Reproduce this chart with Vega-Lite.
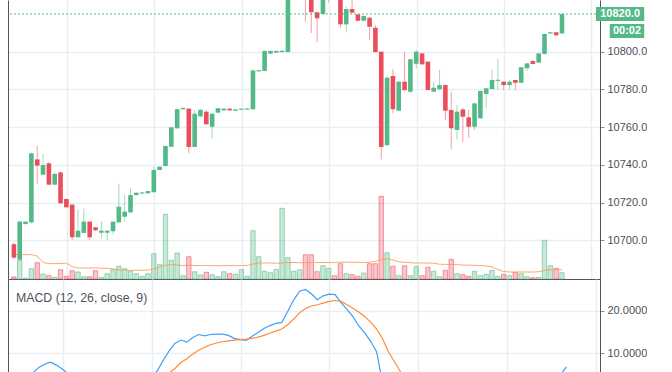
{
  "$schema": "https://vega.github.io/schema/vega-lite/v6.json",
  "padding": {"left": 7, "top": 0, "right": 0, "bottom": 0},
  "spacing": 0,
  "bounds": "flush",
  "background": "white",
  "config": {
    "view": {"stroke": null},
    "axis": {
      "labelFont": "Liberation Sans", "labelFontSize": 11, "labelColor": "#4d4f57",
      "gridColor": "#e9eef3", "gridWidth": 1.5, "domainColor": "#50535e",
      "tickColor": "#8a8e97", "tickSize": 4, "labelPadding": 3, "title": null
    }
  },
  "data": {"values": [
    {"t":0,"o":10697.9,"h":10699,"l":10690,"c":10690.8,"v":2,"vma":24.4,"m":2.0,"s":4.0},
    {"t":1,"o":10689.7,"h":10710.5,"l":10689.5,"c":10709.9,"v":18.7,"vma":24.4,"m":2.8,"s":3.9},
    {"t":2,"o":10708.6,"h":10710,"l":10708.5,"c":10709.9,"v":1,"vma":24.4,"m":3.5,"s":3.9},
    {"t":3,"o":10709.5,"h":10746.5,"l":10709,"c":10746.1,"v":10.3,"vma":24.3,"m":4.3,"s":4.0},
    {"t":4,"o":10742.9,"h":10750,"l":10730,"c":10739.6,"v":16.3,"vma":23,"m":5.3,"s":4.2},
    {"t":5,"o":10734.8,"h":10746,"l":10734.5,"c":10739.9,"v":5,"vma":16.5,"m":6.6,"s":4.5},
    {"t":6,"o":10740.8,"h":10741.5,"l":10729.3,"c":10729.5,"v":3.3,"vma":15.4,"m":7.4,"s":4.8},
    {"t":7,"o":10729.5,"h":10736,"l":10729.3,"c":10735.2,"v":1.7,"vma":15.4,"m":7.9,"s":5.0},
    {"t":8,"o":10736,"h":10736.3,"l":10719.5,"c":10719.6,"v":9.3,"vma":15.6,"m":7.2,"s":5.1},
    {"t":9,"o":10721.9,"h":10722,"l":10717.3,"c":10717.5,"v":2.7,"vma":15.8,"m":6.3,"s":5.2},
    {"t":10,"o":10718.9,"h":10719,"l":10700.2,"c":10701.6,"v":8.3,"vma":12.5,"m":5.2,"s":5.1},
    {"t":11,"o":10701.6,"h":10716.4,"l":10701.4,"c":10705.1,"v":7,"vma":11,"m":4.2,"s":4.9},
    {"t":12,"o":10703.9,"h":10716.8,"l":10703.7,"c":10709.9,"v":2.3,"vma":11,"m":3.6,"s":4.6},
    {"t":13,"o":10709.9,"h":10710,"l":10700.2,"c":10701.6,"v":2.3,"vma":11,"m":3.0,"s":4.3},
    {"t":14,"o":10706.9,"h":10707,"l":10705,"c":10705.3,"v":8.3,"vma":11,"m":2.6,"s":4.0},
    {"t":15,"o":10704,"h":10710.1,"l":10700.9,"c":10705.1,"v":1.7,"vma":10.8,"m":2.2,"s":3.7},
    {"t":16,"o":10704,"h":10705.3,"l":10700.2,"c":10705.1,"v":5.3,"vma":10.7,"m":2.0,"s":3.4},
    {"t":17,"o":10704.8,"h":10710,"l":10703.2,"c":10709.9,"v":9.3,"vma":10,"m":2.0,"s":3.1},
    {"t":18,"o":10709.5,"h":10729.9,"l":10709.3,"c":10717.8,"v":12.7,"vma":9.2,"m":2.3,"s":2.9},
    {"t":19,"o":10712.5,"h":10724,"l":10709.9,"c":10715.2,"v":10.3,"vma":8.8,"m":2.5,"s":2.8},
    {"t":20,"o":10714.8,"h":10727.6,"l":10714.6,"c":10724,"v":8,"vma":8.7,"m":3.0,"s":2.8},
    {"t":21,"o":10724,"h":10725.4,"l":10723.8,"c":10725.2,"v":5.3,"vma":8.7,"m":3.3,"s":2.9},
    {"t":22,"o":10724.8,"h":10725.5,"l":10724.6,"c":10725.4,"v":2.7,"vma":8.7,"m":3.5,"s":3.0},
    {"t":23,"o":10724.9,"h":10726.3,"l":10724.7,"c":10726.1,"v":5.3,"vma":9,"m":3.8,"s":3.1},
    {"t":24,"o":10725.5,"h":10739,"l":10725.3,"c":10737.3,"v":25.3,"vma":10,"m":4.6,"s":3.4},
    {"t":25,"o":10737.3,"h":10739.2,"l":10737.1,"c":10739,"v":14.3,"vma":12,"m":5.8,"s":3.8},
    {"t":26,"o":10739.4,"h":10750.2,"l":10739.2,"c":10750,"v":64.7,"vma":13.8,"m":8.3,"s":4.6},
    {"t":27,"o":10749.6,"h":10760.1,"l":10749.4,"c":10759.9,"v":18.7,"vma":14.5,"m":10.5,"s":5.3},
    {"t":28,"o":10759.4,"h":10769.7,"l":10759.2,"c":10769.5,"v":26,"vma":14,"m":12.3,"s":6.4},
    {"t":29,"o":10769.5,"h":10770.4,"l":10769.3,"c":10770.2,"v":3.3,"vma":13.5,"m":13.1,"s":7.8},
    {"t":30,"o":10769.8,"h":10770,"l":10746.1,"c":10749.5,"v":22.3,"vma":13.7,"m":12.6,"s":8.7},
    {"t":31,"o":10749.5,"h":10769.1,"l":10749.3,"c":10767.1,"v":7.3,"vma":13.5,"m":13.7,"s":9.8},
    {"t":32,"o":10765.7,"h":10769.4,"l":10765.5,"c":10769.2,"v":4,"vma":13.4,"m":14.4,"s":10.7},
    {"t":33,"o":10768.2,"h":10769.1,"l":10761.3,"c":10761.5,"v":6.7,"vma":13.4,"m":14.1,"s":11.4},
    {"t":34,"o":10760.2,"h":10767.3,"l":10754.1,"c":10767.1,"v":4.3,"vma":13.4,"m":14.4,"s":12.0},
    {"t":35,"o":10767.7,"h":10770.2,"l":10767.1,"c":10770,"v":2.3,"vma":13.3,"m":14.5,"s":12.4},
    {"t":36,"o":10768.9,"h":10770,"l":10768.7,"c":10769.8,"v":7.3,"vma":13.3,"m":14.5,"s":12.7},
    {"t":37,"o":10769.8,"h":10770,"l":10768.7,"c":10768.9,"v":5.3,"vma":13.4,"m":14.2,"s":12.9},
    {"t":38,"o":10768.7,"h":10769.6,"l":10768.5,"c":10769.4,"v":4.7,"vma":13.4,"m":13.5,"s":13.1},
    {"t":39,"o":10769.2,"h":10769.9,"l":10769,"c":10769.8,"v":9.3,"vma":13.4,"m":13.2,"s":13.2},
    {"t":40,"o":10769.3,"h":10770,"l":10769.1,"c":10769.9,"v":2.7,"vma":13.5,"m":13.0,"s":13.3},
    {"t":41,"o":10769.5,"h":10790.3,"l":10769.3,"c":10790.1,"v":48.3,"vma":15,"m":14.0,"s":13.5},
    {"t":42,"o":10789.6,"h":10790.3,"l":10789.4,"c":10790.2,"v":22.3,"vma":16,"m":14.9,"s":13.8},
    {"t":43,"o":10789.8,"h":10800.6,"l":10789.6,"c":10800.4,"v":7.7,"vma":16,"m":15.8,"s":14.2},
    {"t":44,"o":10799,"h":10800.6,"l":10798.8,"c":10800.4,"v":6.3,"vma":16,"m":16.5,"s":14.7},
    {"t":45,"o":10799.5,"h":10800.6,"l":10799.3,"c":10800.4,"v":9.7,"vma":15.7,"m":17.0,"s":15.2},
    {"t":46,"o":10799.8,"h":10800.6,"l":10799.6,"c":10800.5,"v":70.7,"vma":16,"m":17.2,"s":15.7},
    {"t":47,"o":10799.8,"h":10838,"l":10799.6,"c":10835,"v":21.3,"vma":16.5,"m":19.8,"s":16.7},
    {"t":48,"o":10835,"h":10841,"l":10832,"c":10838,"v":7.7,"vma":16.5,"m":22.5,"s":18.0},
    {"t":49,"o":10838,"h":10846,"l":10834,"c":10842,"v":9.3,"vma":16.3,"m":24.6,"s":19.5},
    {"t":50,"o":10842,"h":10844,"l":10815.9,"c":10829,"v":24.3,"vma":16.3,"m":25.0,"s":20.5},
    {"t":51,"o":10829,"h":10831,"l":10809.9,"c":10820.9,"v":24.3,"vma":16.4,"m":24.0,"s":21.1},
    {"t":52,"o":10820.9,"h":10821.2,"l":10805,"c":10817.7,"v":7.3,"vma":16.4,"m":22.6,"s":21.4},
    {"t":53,"o":10820,"h":10833,"l":10819.8,"c":10830,"v":13.3,"vma":16.5,"m":23.5,"s":21.8},
    {"t":54,"o":10830,"h":10838,"l":10826,"c":10836,"v":10.7,"vma":16.3,"m":23.9,"s":22.2},
    {"t":55,"o":10836,"h":10840,"l":10831,"c":10834,"v":3.3,"vma":16.5,"m":23.8,"s":22.4},
    {"t":56,"o":10834,"h":10838,"l":10812.7,"c":10814.5,"v":15.3,"vma":16.8,"m":21.9,"s":22.2},
    {"t":57,"o":10814.5,"h":10824,"l":10810.3,"c":10822.6,"v":5.3,"vma":16.9,"m":20.3,"s":21.4},
    {"t":58,"o":10822.6,"h":10830,"l":10820.5,"c":10820.7,"v":4.3,"vma":16.7,"m":18.6,"s":20.6},
    {"t":59,"o":10819.8,"h":10820,"l":10816.2,"c":10816.4,"v":2.7,"vma":16.6,"m":16.4,"s":19.7},
    {"t":60,"o":10816.4,"h":10819.1,"l":10816.2,"c":10818.9,"v":6,"vma":16.4,"m":14.8,"s":18.6},
    {"t":61,"o":10818,"h":10818.2,"l":10806.2,"c":10813.2,"v":15.3,"vma":16.8,"m":12.8,"s":17.3},
    {"t":62,"o":10812.7,"h":10814.1,"l":10799.6,"c":10799.8,"v":15.3,"vma":17.5,"m":10.3,"s":15.7},
    {"t":63,"o":10800,"h":10800.2,"l":10742.9,"c":10749.5,"v":82.7,"vma":19.5,"m":3.0,"s":13.4},
    {"t":64,"o":10750.4,"h":10787.1,"l":10750.2,"c":10786.2,"v":26.3,"vma":20.3,"m":1.5,"s":10.3},
    {"t":65,"o":10787.1,"h":10790.8,"l":10767.3,"c":10769.5,"v":12.7,"vma":19,"m":0.8,"s":8.0},
    {"t":66,"o":10768.7,"h":10784.3,"l":10768.5,"c":10784.1,"v":3.3,"vma":17.2,"m":0.5,"s":5.7},
    {"t":67,"o":10784.1,"h":10800,"l":10779,"c":10779.7,"v":13.3,"vma":16.7,"m":0.3,"s":3.8},
    {"t":68,"o":10778.8,"h":10796.2,"l":10778,"c":10796,"v":3.3,"vma":16.3,"m":0.5,"s":2.8},
    {"t":69,"o":10793.6,"h":10801,"l":10791.2,"c":10800,"v":12.7,"vma":16,"m":0.8,"s":2.2},
    {"t":70,"o":10799.1,"h":10799.3,"l":10793.1,"c":10793.3,"v":3.3,"vma":16,"m":0.7,"s":1.9},
    {"t":71,"o":10794.7,"h":10794.9,"l":10779.5,"c":10779.7,"v":11.7,"vma":16,"m":0.1,"s":1.6},
    {"t":72,"o":10778.8,"h":10784.1,"l":10778.6,"c":10780.9,"v":7.7,"vma":15.7,"m":-0.3,"s":1.2},
    {"t":73,"o":10780.1,"h":10790.3,"l":10779.9,"c":10782.3,"v":2.3,"vma":14.8,"m":-0.6,"s":0.9},
    {"t":74,"o":10782.3,"h":10782.5,"l":10763.8,"c":10768.7,"v":8.7,"vma":14.6,"m":-1.4,"s":0.5},
    {"t":75,"o":10769.1,"h":10778.8,"l":10748.4,"c":10759.4,"v":19.7,"vma":14.5,"m":-2.5,"s":0},
    {"t":76,"o":10758.5,"h":10771.7,"l":10753.5,"c":10768.2,"v":5.3,"vma":14.3,"m":-3.0,"s":-0.6},
    {"t":77,"o":10769.4,"h":10770,"l":10752,"c":10765.5,"v":4.3,"vma":14,"m":-3.3,"s":-1.1},
    {"t":78,"o":10765.2,"h":10769.1,"l":10754.4,"c":10760.2,"v":2.7,"vma":13.8,"m":-3.8,"s":-1.6},
    {"t":79,"o":10760.2,"h":10772.8,"l":10758.5,"c":10772.6,"v":7.7,"vma":13.7,"m":-3.5,"s":-2.0},
    {"t":80,"o":10764.7,"h":10779.4,"l":10764.5,"c":10779.2,"v":3.3,"vma":13.5,"m":-2.6,"s":-2.1},
    {"t":81,"o":10777.6,"h":10780.8,"l":10770,"c":10780.6,"v":4.7,"vma":13,"m":-1.8,"s":-2.1},
    {"t":82,"o":10780.2,"h":10790.3,"l":10780,"c":10785,"v":8.7,"vma":12,"m":-1.0,"s":-1.9},
    {"t":83,"o":10784.5,"h":10796,"l":10780,"c":10785.1,"v":2.7,"vma":9.5,"m":-0.4,"s":-1.6},
    {"t":84,"o":10784.1,"h":10784.3,"l":10779.7,"c":10782.3,"v":4.7,"vma":7.5,"m":-0.1,"s":-1.3},
    {"t":85,"o":10782.3,"h":10785,"l":10780,"c":10784.1,"v":3.3,"vma":7,"m":0.2,"s":-1.0},
    {"t":86,"o":10785,"h":10785.2,"l":10779.7,"c":10783.5,"v":6.7,"vma":7,"m":0.4,"s":-0.7},
    {"t":87,"o":10783.5,"h":10791.9,"l":10783.3,"c":10791.7,"v":5.3,"vma":7,"m":1.0,"s":-0.4},
    {"t":88,"o":10791.2,"h":10794,"l":10789.8,"c":10793.8,"v":2.3,"vma":7,"m":1.6,"s":0},
    {"t":89,"o":10795.1,"h":10795.3,"l":10793.3,"c":10793.5,"v":1.3,"vma":7,"m":2.0,"s":0.4},
    {"t":90,"o":10794.2,"h":10799.3,"l":10794,"c":10799.1,"v":1.7,"vma":7.3,"m":2.6,"s":0.8},
    {"t":91,"o":10798.8,"h":10809.6,"l":10798.6,"c":10809.4,"v":38.7,"vma":8.5,"m":3.9,"s":1.4},
    {"t":92,"o":10809.7,"h":10810.5,"l":10809.5,"c":10810.3,"v":13.3,"vma":9.3,"m":4.4,"s":2.0},
    {"t":93,"o":10810.3,"h":10810.5,"l":10808.5,"c":10808.7,"v":10.7,"vma":9.3,"m":5.0,"s":2.6},
    {"t":94,"o":10809.7,"h":10820.2,"l":10809.5,"c":10820,"v":6.3,"vma":9.3,"m":6.8,"s":3.4}
  ]},
  "vconcat": [
    {
      "width": 592,
      "height": 279,
      "layer": [
        {
          "layer": [
            {
              "mark": {"type": "bar", "orient": "vertical", "width": 4.4, "strokeWidth": 1, "fillOpacity": 0.32, "strokeOpacity": 0.55},
              "encoding": {
                "x": {"field": "t", "type": "quantitative", "scale": {"domain": [-0.152, 99.66], "nice": false, "zero": false},
                      "axis": {"orient": "bottom", "values": [9.05, 24.05, 39.05, 54.05, 69.05, 84.05, 99.05], "labels": false, "ticks": false, "domain": true, "grid": true}},
                "y": {"field": "v", "type": "quantitative", "scale": {"domain": [0, 279], "nice": false},
                      "axis": {"orient": "left", "labels": false, "ticks": false, "grid": false, "domain": true}},
                "fill": {"condition": {"test": "datum.c >= datum.o", "value": "#53b987"}, "value": "#eb4d5c"},
                "stroke": {"condition": {"test": "datum.c >= datum.o", "value": "#53b987"}, "value": "#eb4d5c"}
              }
            },
            {
              "mark": {"type": "line", "color": "#ff9a4d", "strokeWidth": 1, "opacity": 0.85},
              "encoding": {
                "x": {"field": "t", "type": "quantitative"},
                "y": {"field": "vma", "type": "quantitative"}
              }
            }
          ]
        },
        {
          "layer": [
            {
              "mark": {"type": "rule", "strokeWidth": 1, "opacity": 0.55, "clip": true},
              "encoding": {
                "x": {"field": "t", "type": "quantitative"},
                "y": {"field": "l", "type": "quantitative", "scale": {"domain": [10679.48, 10827.41], "nice": false, "zero": false},
                      "axis": {"orient": "right", "values": [10700, 10720, 10740, 10760, 10780, 10800], "format": ".1f", "grid": true}},
                "y2": {"field": "h"},
                "color": {"condition": {"test": "datum.c >= datum.o", "value": "#53b987"}, "value": "#eb4d5c"}
              }
            },
            {
              "mark": {"type": "bar", "width": 4.6, "clip": true},
              "encoding": {
                "x": {"field": "t", "type": "quantitative"},
                "y": {"field": "o", "type": "quantitative"},
                "y2": {"field": "c"},
                "color": {"condition": {"test": "datum.c >= datum.o", "value": "#53b987"}, "value": "#eb4d5c"}
              }
            },
            {
              "data": {"values": [{"last": 10820}]},
              "mark": {"type": "rule", "color": "#53b987", "strokeDash": [2, 2], "strokeWidth": 1},
              "encoding": {"y": {"field": "last", "type": "quantitative"}}
            },
            {
              "data": {"values": [{"last": 10820}]},
              "mark": {"type": "rect", "color": "#53b987", "clip": false},
              "encoding": {
                "x": {"datum": 99.83}, "x2": {"datum": 108.1},
                "y": {"datum": 10823.7}, "y2": {"datum": 10816.3}
              }
            },
            {
              "data": {"values": [{"last": 10820}]},
              "mark": {"type": "text", "color": "white", "font": "Liberation Sans", "fontSize": 11, "fontWeight": "bold", "align": "center", "baseline": "middle", "clip": false},
              "encoding": {
                "x": {"datum": 103.97},
                "y": {"field": "last", "type": "quantitative"},
                "text": {"field": "last", "type": "quantitative", "format": ".1f"}
              }
            },
            {
              "data": {"values": [{"last": 10820}]},
              "mark": {"type": "rect", "color": "#53b987", "clip": false},
              "encoding": {
                "x": {"datum": 102.19}, "x2": {"datum": 108.1},
                "y": {"datum": 10814.7}, "y2": {"datum": 10807.26}
              }
            },
            {
              "data": {"values": [{"label": "00:02"}]},
              "mark": {"type": "text", "color": "white", "font": "Liberation Sans", "fontSize": 11, "fontWeight": "bold", "align": "center", "baseline": "middle", "clip": false},
              "encoding": {
                "x": {"datum": 105.15},
                "y": {"datum": 10811.0},
                "text": {"field": "label"}
              }
            }
          ]
        }
      ],
      "resolve": {"scale": {"y": "independent"}}
    },
    {
      "width": 592,
      "height": 93,
      "layer": [
        {
          "mark": {"type": "line", "color": "#3ea0f5", "strokeWidth": 1.2, "clip": true},
          "encoding": {
            "x": {"field": "t", "type": "quantitative", "scale": {"domain": [-0.152, 99.66], "nice": false, "zero": false},
                  "axis": {"orient": "bottom", "values": [9.05, 24.05, 39.05, 54.05, 69.05, 84.05, 99.05], "labels": false, "ticks": false, "domain": false, "grid": true}},
            "y": {"field": "m", "type": "quantitative", "scale": {"domain": [5.58, 27.46], "nice": false, "zero": false},
                  "axis": {"orient": "right", "values": [10, 20], "format": ".4f", "grid": true}}
          }
        },
        {
          "mark": {"type": "line", "color": "#ff8a3d", "strokeWidth": 1.2, "clip": true},
          "encoding": {
            "x": {"field": "t", "type": "quantitative"},
            "y": {"field": "s", "type": "quantitative",
                  "axis": {"orient": "left", "labels": false, "ticks": false, "grid": false, "domain": true}}
          }
        },
        {
          "data": {"values": [{"label": "MACD (12, 26, close, 9)"}]},
          "mark": {"type": "text", "align": "left", "baseline": "middle", "font": "Liberation Sans", "fontSize": 12.3, "color": "#4c525e"},
          "encoding": {
            "x": {"datum": 1.2},
            "y": {"datum": 23.1, "axis": null},
            "text": {"field": "label"}
          }
        }
      ],
      "resolve": {"axis": {"y": "independent"}}
    }
  ]
}
